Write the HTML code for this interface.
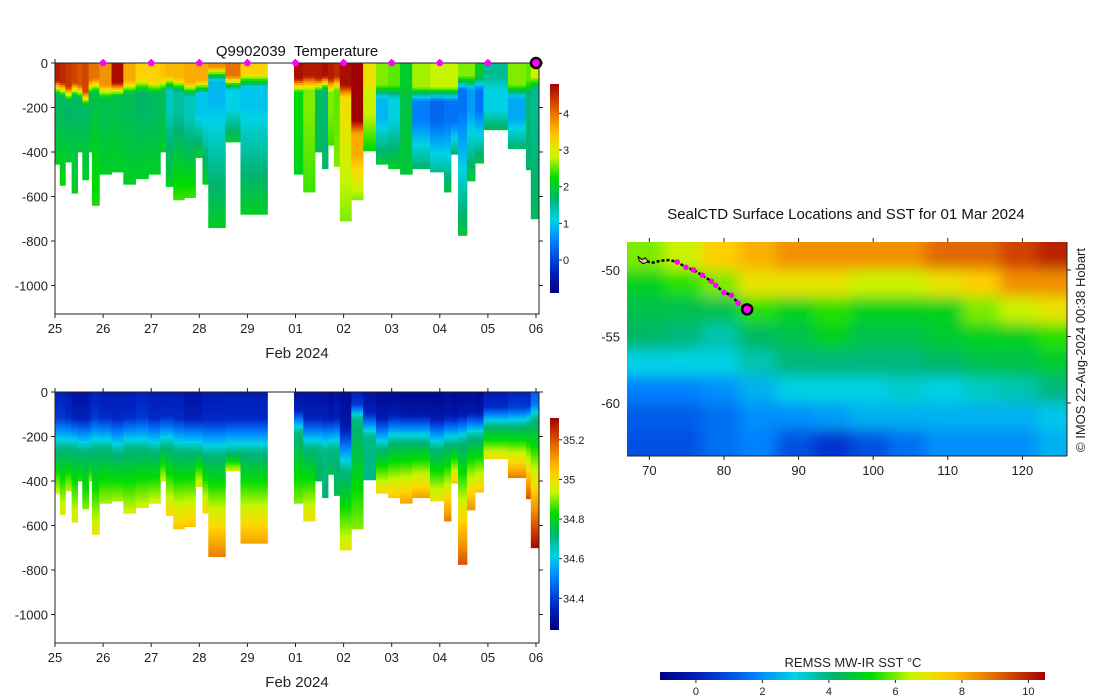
<!DOCTYPE html>
<html><head><meta charset="utf-8"><style>
body{margin:0;background:#fff;}
svg{display:block;font-family:"Liberation Sans","DejaVu Sans",sans-serif;}
</style></head><body>
<svg id="fig" width="1100" height="700" viewBox="0 0 1100 700">
<defs>
<filter id="blur" x="-5%" y="-5%" width="110%" height="110%"><feGaussianBlur stdDeviation="7"/></filter>
<clipPath id="mapclip"><rect x="627" y="242" width="440" height="214"/></clipPath>
<linearGradient id="cbT" x1="0" y1="1" x2="0" y2="0"></linearGradient>
<linearGradient id="cbS" x1="0" y1="1" x2="0" y2="0"></linearGradient>
<linearGradient id="cbSST" x1="0" y1="0" x2="1" y2="0"></linearGradient>
</defs>
<g id="top"></g>
<g id="bot"></g>
<g id="map"></g>
<text x="297" y="56" text-anchor="middle" font-size="15" fill="#111">Q9902039&#160; Temperature</text>
<text x="297" y="358" text-anchor="middle" font-size="15" fill="#222">Feb 2024</text>
<text x="297" y="687" text-anchor="middle" font-size="15" fill="#222">Feb 2024</text>
<text x="846" y="219" text-anchor="middle" font-size="15" fill="#111">SealCTD Surface Locations and SST for 01 Mar 2024</text>
<text transform="translate(1085,350) rotate(-90)" text-anchor="middle" font-size="13" fill="#222">© IMOS 22-Aug-2024 00:38 Hobart</text>
<text x="853" y="667" text-anchor="middle" font-size="13" fill="#222">REMSS MW-IR SST °C</text>
</svg>
<script>
// ---- profile data ----
const profStart=[0,0.10,0.215,0.346,0.469,0.568,0.699,0.768,0.922,1.175,1.421,1.674,1.943,2.189,2.304,2.458,2.688,2.919,3.065,3.187,3.541,3.856,4.969,5.161,5.407,5.553,5.676,5.799,5.922,6.160,6.406,6.674,6.928,7.174,7.427,7.796,8.088,8.233,8.379,8.564,8.733,8.909,9.416,9.793,9.892];
const profEnd=[0.10,0.215,0.346,0.469,0.568,0.699,0.768,0.922,1.175,1.421,1.674,1.943,2.189,2.304,2.458,2.688,2.919,3.065,3.187,3.541,3.856,4.416,5.161,5.407,5.553,5.676,5.799,5.922,6.160,6.406,6.674,6.928,7.174,7.427,7.796,8.088,8.233,8.379,8.564,8.733,8.909,9.416,9.793,9.892,10.05];
const profMaxDepth=[455,550,445,585,400,525,400,640,500,490,545,520,500,400,555,615,605,425,545,740,355,680,500,580,400,475,370,465,710,615,395,455,475,500,475,490,580,410,775,530,450,300,385,480,700];
const tSurf=[4.6,4.5,4.4,4.3,4.2,4.3,4.0,4.0,3.8,4.7,3.6,3.3,3.3,3.4,3.5,3.5,3.6,3.6,3.6,3.8,4.0,3.3,4.7,4.6,4.6,4.7,4.6,4.5,4.7,4.8,3.1,2.6,2.5,2.0,2.7,2.8,2.8,2.8,2.6,2.6,2.0,1.5,2.6,2.5,2.9];
const tMld=[80,90,110,90,100,130,80,70,100,90,80,70,80,70,60,70,90,80,80,20,60,50,70,60,70,60,70,60,100,260,80,100,100,100,110,110,110,110,60,60,60,60,100,80,60];
const tMin=[1.75,1.75,1.7,1.75,1.7,1.75,1.8,1.9,1.85,1.85,1.8,1.7,1.75,1.8,1.3,1.45,1.3,1.0,1.0,0.9,1.1,1.0,2.2,2.6,1.8,1.6,2.6,2.5,3.1,3.6,2.8,0.9,1.1,1.9,0.5,0.3,0.4,0.4,0.4,0.7,0.4,1.1,0.8,1.6,1.5];
const tDeep=[2.05,2.2,2.05,2.05,2.0,2.05,2.05,2.3,2.05,2.05,2.05,2.05,2.05,2.05,2.05,2.4,2.4,2.05,2.05,2.05,2.0,2.05,2.1,2.4,1.8,1.7,2.4,2.6,2.6,2.6,2.2,1.95,2.05,1.95,1.7,1.5,1.9,1.7,1.9,1.95,1.9,1.8,1.7,1.7,1.75];
const sSurf=[34.35,34.35,34.33,34.3,34.3,34.3,34.33,34.35,34.33,34.33,34.33,34.35,34.33,34.33,34.33,34.33,34.3,34.3,34.33,34.33,34.33,34.33,34.3,34.3,34.3,34.3,34.28,34.3,34.28,34.35,34.3,34.28,34.28,34.27,34.27,34.27,34.28,34.27,34.28,34.28,34.27,34.33,34.36,34.35,34.45];
const sHalo=[250,250,250,250,260,260,260,250,250,270,250,250,260,240,240,260,260,260,280,280,270,270,180,250,250,260,250,250,350,120,200,250,220,220,220,250,230,230,220,200,200,150,150,140,120];
const sDeep=[34.95,34.98,34.93,34.98,34.85,34.9,34.9,34.98,34.92,34.92,34.95,34.95,34.95,34.95,35.02,35.05,35.05,34.98,35.02,35.15,34.95,35.1,34.9,35.0,34.75,34.72,34.75,34.75,34.98,34.9,34.7,35.02,35.05,35.1,35.1,35.0,35.15,35.05,35.2,35.12,35.05,35.0,35.15,35.2,35.3];
const dayTicks=["25","26","27","28","29","01","02","03","04","05","06"];
const depthTicks=[0,200,400,600,800,1000];
const tCbTicks=[0,1,2,3,4];
const sCbTicks=["34.4","34.6","34.8","35","35.2"];
const sstCbTicks=[0,2,4,6,8,10];
// ---- SST map data (rows lat -49..-63 step 2; cols lon 69.5..124.5 step 5) ----
const sstLat=[-49,-51,-53,-55,-57,-59,-61,-63];
const sstLon=[69.5,74.5,79.5,84.5,89.5,94.5,99.5,104.5,109.5,114.5,119.5,124.5];
const sstGrid=[
[6,6.5,7.5,8,8.5,8.5,8.5,8.5,9,9,9.5,10],
[5,5.5,6,7,7,7,6.5,6.5,7,7.5,8.5,8.5],
[4.5,4.5,4.5,5.5,5,5.5,5,5,5,6,6.5,7],
[4.2,4,3.5,4.3,4.5,5,4.5,4.5,4.8,5,5,5.5],
[3,3,3,3.5,4,4,4,4,4.2,4.5,4.5,4.8],
[1.8,1.8,2,2.5,3,3,3,3.2,3,3.3,3.5,4],
[1.2,1.2,1.5,2,2,2.2,2.5,2.5,2.5,2.5,2.5,2.8],
[1,1,1.5,1.8,1,0.5,1,1.5,2,2,2,2.5]];
const trackLon=[69.0,70.5,71.5,72.7,73.74,74.9,75.9,77.1,78.3,78.9,80.0,81.0,81.9,83.1];
const trackLat=[-49.3,-49.45,-49.3,-49.25,-49.40,-49.8,-50.0,-50.4,-50.85,-51.15,-51.7,-51.9,-52.5,-52.96];

const NS='http://www.w3.org/2000/svg';
function mk(tag,attrs,parent){const e=document.createElementNS(NS,tag);for(const k in attrs)e.setAttribute(k,attrs[k]);parent.appendChild(e);return e;}
const cmapStops=[[0,[0,0,128]],[0.12,[0,40,200]],[0.25,[0,130,255]],[0.35,[0,210,230]],[0.45,[0,180,110]],[0.55,[0,220,0]],[0.65,[200,245,0]],[0.73,[255,215,0]],[0.82,[245,150,0]],[0.91,[210,70,0]],[1,[160,0,0]]];
function cmap(t){t=Math.max(0,Math.min(1,t));for(let i=1;i<cmapStops.length;i++){if(t<=cmapStops[i][0]){const a=cmapStops[i-1],b=cmapStops[i];const f=(t-a[0])/(b[0]-a[0]);const c=a[1].map((v,j)=>Math.round(v+(b[1][j]-v)*f));return `rgb(${c[0]},${c[1]},${c[2]})`;}}return 'rgb(160,0,0)';}
function interp(st,z){if(z<=st[0][0])return st[0][1];for(let i=1;i<st.length;i++){if(z<=st[i][0]){const a=st[i-1],b=st[i];if(b[0]===a[0])return b[1];return a[1]+(b[1]-a[1])*(z-a[0])/(b[0]-a[0]);}}return st[st.length-1][1];}
const xT=d=>55+d*48.1;
const T0=-0.9,T1=4.8,S0=34.24,S1=35.31;

function section(g,y0,valFn,lo,hi,names){
  const yS=z=>y0+z*0.2225;
  for(let i=0;i<profStart.length;i++){
    const pg=mk('g',{},g);
    
    
    const x0=xT(profStart[i]),x1=xT(profEnd[i]);
    for(let z=0;z<profMaxDepth[i];z+=10){
      const zz=Math.min(z+10,profMaxDepth[i]);
      const v=valFn(i,z+5);
      mk('rect',{x:x0.toFixed(2),y:yS(z).toFixed(2),width:(x1-x0+0.4).toFixed(2),height:(yS(zz)-yS(z)+0.4).toFixed(2),fill:cmap((v-lo)/(hi-lo))},pg);
    }
  }
  const ax=mk('g',{stroke:'#222','stroke-width':1,fill:'none'},g);
  
  
  const yb=yS(1128);
  mk('path',{d:`M55,${y0}V${yb}H539V${y0}M55,${y0}H539`},ax);
  dayTicks.forEach((lab,k)=>{const x=xT(k);
    mk('path',{d:`M${x},${yb}v4M${x},${y0}v-4`},ax);
    const t=mk('text',{x:x,y:yb+19,'text-anchor':'middle','font-size':13,fill:'#222',stroke:'none'},g);t.textContent=lab;
    });
  depthTicks.forEach(dp=>{const y=yS(dp);
    mk('path',{d:`M55,${y}h-4M539,${y}h4`},ax);
    const t=mk('text',{x:48,y:y+5,'text-anchor':'end','font-size':13,fill:'#222',stroke:'none'},g);t.textContent=dp===0?'0':'-'+dp;
    });
}
// temperature
section(document.getElementById('top'),63,(i,z)=>{
  const m=tMld[i],mx=profMaxDepth[i];
  const st=[[0,tSurf[i]],[m,tSurf[i]],[Math.min(m+60,mx),tMin[i]],[Math.min(m+150,mx),tMin[i]],[mx,tDeep[i]]];
  return interp(st,z);},T0,T1,'temp');
section(document.getElementById('bot'),392,(i,z)=>{
  const h=sHalo[i],mx=profMaxDepth[i];
  const st=[[0,sSurf[i]],[h*0.45,sSurf[i]+0.04],[h,34.7],[Math.max(mx,h+1),sDeep[i]]];
  return interp(st,z);},S0,S1,'sal');

// surface markers (top)
const topG=document.getElementById('top');
for(let k=1;k<=9;k++){const c=mk('circle',{cx:xT(k),cy:63,r:3.3,fill:'#ff00ff'},topG);
  }
const lastM=mk('circle',{cx:xT(10),cy:63,r:5,fill:'#ff00ff',stroke:'#000','stroke-width':2.5},topG);


// colorbars
function fillGrad(id){const gr=document.getElementById(id);for(let k=0;k<=20;k++){mk('stop',{offset:k/20,'stop-color':cmap(k/20)},gr);}}
['cbT','cbS','cbSST'].forEach(fillGrad);
function vbar(g,y0,y1,lo,hi,ticks,labs,grad,name){
  const r=mk('rect',{x:550,y:y0,width:9,height:y1-y0,fill:`url(#${grad})`},g);
  
  ticks.forEach((v,k)=>{const y=y1-(v-lo)/(hi-lo)*(y1-y0);
    mk('path',{d:`M559,${y}h3`,stroke:'#222'},g);
    const t=mk('text',{x:563,y:y+4,'font-size':11,fill:'#222'},g);t.textContent=labs[k];
    });
}
vbar(topG,84,293,T0,T1,tCbTicks,tCbTicks.map(String),'cbT','temperature-colorbar');
vbar(document.getElementById('bot'),418,630,S0,S1,sCbTicks.map(Number),sCbTicks,'cbS','salinity-colorbar');

// map
const mapG=document.getElementById('map');
const xM=lon=>627+(lon-67.0)*7.46, yM=lat=>242.7+(-47.95-lat)*13.3;
const field=mk('g',{'clip-path':'url(#mapclip)'},mapG);
const blurG=mk('g',{filter:'url(#blur)'},field);
const SST0=-1.08,SST1=10.5;
sstLat.forEach((la,r)=>sstLon.forEach((lo,c)=>{
  const x=xM(lo-2.5),y=yM(la+1),w=xM(lo+2.5)-x,h=yM(la-1)-y;
  const ex=c===0?-30:0,ew=(c===sstLon.length-1?30:0)-ex,ey=r===0?-30:0,eh=(r===sstLat.length-1?30:0)-ey;
  const cell=mk('rect',{x:x+ex,y:y+ey,width:w+ew+0.5,height:h+eh+0.5,fill:cmap((sstGrid[r][c]-SST0)/(SST1-SST0))},blurG);
  
}));
const mx=mk('g',{stroke:'#222',fill:'none'},mapG);

mk('path',{d:'M627,456H1067M1067,242V456'},mx);
[70,80,90,100,110,120].forEach(lo=>{const x=xM(lo);mk('path',{d:`M${x},456v4M${x},242v-4`},mx);
  const t=mk('text',{x:x,y:475,'text-anchor':'middle','font-size':13,fill:'#222',stroke:'none'},mapG);t.textContent=lo;
  });
[-50,-55,-60].forEach(la=>{const y=yM(la);mk('path',{d:`M1067,${y}h4`},mx);
  const t=mk('text',{x:620,y:y+5,'text-anchor':'end','font-size':13,fill:'#222',stroke:'none'},mapG);t.textContent=la;
  });
// track
let d='';trackLon.forEach((lo,k)=>{d+=(k?'L':'M')+xM(lo).toFixed(1)+','+yM(trackLat[k]).toFixed(1);});
const tr=mk('path',{d:d,stroke:'#000','stroke-width':2.5,fill:'none','stroke-dasharray':'3,2'},mapG);

const isl=mk('path',{d:`M${xM(68.5)},${yM(-49)}l4,3l3,-2l3,4l-5,2l-4,-3z`,fill:'#f4c8a0',stroke:'#000','stroke-width':1},mapG);

for(let k=4;k<trackLon.length-1;k++){const c=mk('circle',{cx:xM(trackLon[k]),cy:yM(trackLat[k]),r:2.8,fill:'#ff00ff'},mapG);
  }
const n=trackLon.length-1;
const cur=mk('circle',{cx:xM(trackLon[n]),cy:yM(trackLat[n]),r:5,fill:'#ff00ff',stroke:'#000','stroke-width':2.5},mapG);

// SST colorbar
const sb=mk('rect',{x:660,y:672,width:385,height:8,fill:'url(#cbSST)'},mapG);

sstCbTicks.forEach(v=>{const x=660+(v-SST0)/(SST1-SST0)*385;
  mk('path',{d:`M${x},680v3`,stroke:'#222'},mapG);
  const t=mk('text',{x:x,y:695,'text-anchor':'middle','font-size':11,fill:'#222'},mapG);t.textContent=v;
  });
</script>
</body></html>
